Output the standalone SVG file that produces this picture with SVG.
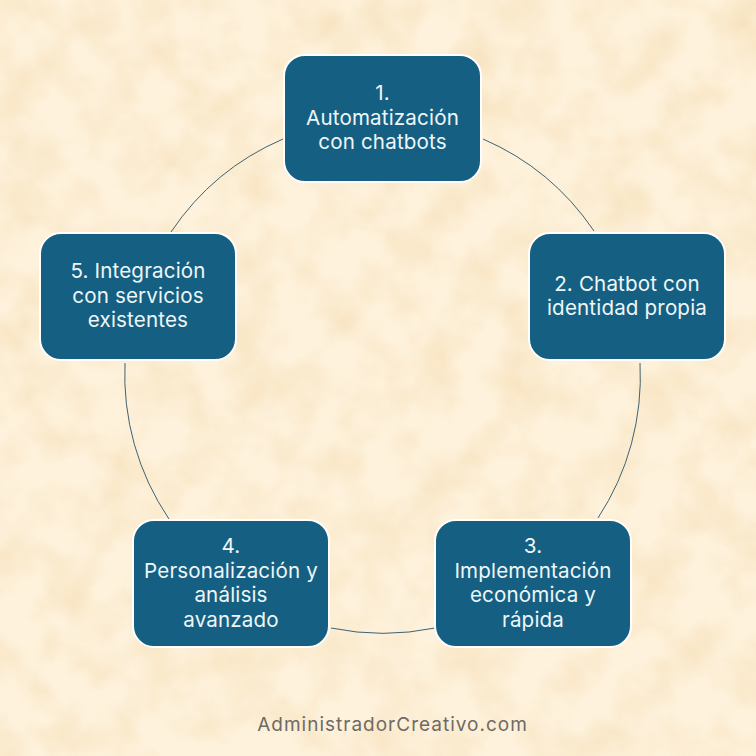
<svg xmlns="http://www.w3.org/2000/svg" width="756" height="756" viewBox="0 0 756 756">
<style>
.box{fill:#156082;stroke:#fff;stroke-width:2}
.t{font-family:"Inter","Open Sans","Liberation Sans",sans-serif;font-size:20.6px;letter-spacing:.15px;fill:#eef6f8;text-anchor:middle}
.c{fill:none;stroke:#3f6272;stroke-width:1}
</style>
<defs>
<filter id="paper" x="0" y="0" width="100%" height="100%" color-interpolation-filters="sRGB">
<feTurbulence type="fractalNoise" baseFrequency="0.022" numOctaves="4" seed="7"/>
<feGaussianBlur stdDeviation="1.5"/>
<feColorMatrix type="matrix" values="0 0 0 0 0.965  0 0 0 0 0.88  0 0 0 0 0.73  2 0 0 0 -0.75"/>
</filter>
</defs>
<g id="background">
<rect width="756" height="756" fill="#fef2dc"/>
<rect width="756" height="756" filter="url(#paper)" opacity="0.8"/>
</g>
<g id="connectors">
<path class="c" d="M483 139A257.5 257.5 0 0 1 594 231"/>
<path class="c" d="M640 363A257.5 257.5 0 0 1 598 518"/>
<path class="c" d="M435 628A257.5 257.5 0 0 1 331 628"/>
<path class="c" d="M169 519A257.5 257.5 0 0 1 125 363"/>
<path class="c" d="M171 232A257.5 257.5 0 0 1 283 139"/>
</g>
<g id="node1"><rect class="box" x="284" y="55" width="197" height="127" rx="21"/>
<text class="t" x="382.5" y="100">1.</text><text class="t" x="382.5" y="125">Automatización</text><text class="t" x="382.5" y="149">con chatbots</text></g>
<g id="node2"><rect class="box" x="529" y="233" width="196" height="127" rx="21"/>
<text class="t" x="627" y="291">2. Chatbot con</text><text class="t" x="627" y="315">identidad propia</text></g>
<g id="node3"><rect class="box" x="435" y="520" width="196" height="127" rx="21"/>
<text class="t" x="533" y="553">3.</text><text class="t" x="533" y="578">Implementación</text><text class="t" x="533" y="602">económica y</text><text class="t" x="533" y="627">rápida</text></g>
<g id="node4"><rect class="box" x="133" y="520" width="196" height="127" rx="21"/>
<text class="t" x="231" y="553">4.</text><text class="t" x="231" y="578">Personalización y</text><text class="t" x="231" y="602">análisis</text><text class="t" x="231" y="627">avanzado</text></g>
<g id="node5"><rect class="box" x="40" y="233" width="196" height="127" rx="21"/>
<text class="t" x="138" y="278">5. Integración</text><text class="t" x="138" y="303">con servicios</text><text class="t" x="138" y="327">existentes</text></g>
<text x="392.500" y="731" text-anchor="middle" font-family="Inter,'Open Sans','Liberation Sans',sans-serif" font-size="19" letter-spacing="1" fill="#6f6a66">AdministradorCreativo.com</text>
</svg>
